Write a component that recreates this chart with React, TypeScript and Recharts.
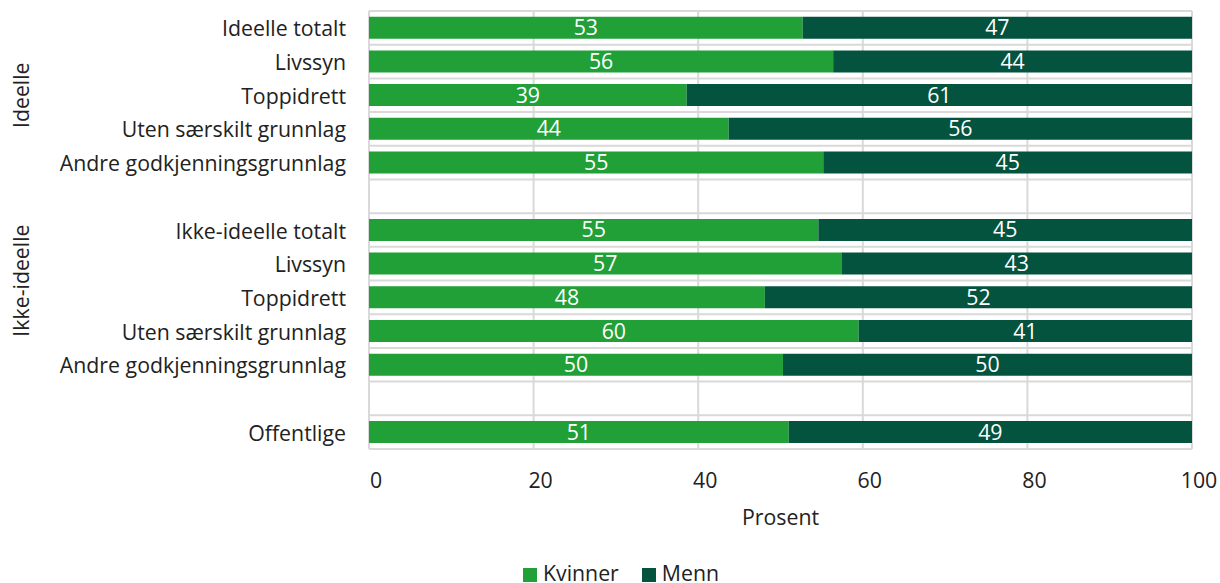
import { BarChart, Bar, XAxis, YAxis, CartesianGrid, Legend, LabelList } from "recharts";

const categories = [
  "Ideelle totalt",
  "Livssyn",
  "Toppidrett",
  "Uten særskilt grunnlag",
  "Andre godkjenningsgrunnlag",
  "",
  "Ikke-ideelle totalt",
  "Livssyn",
  "Toppidrett",
  "Uten særskilt grunnlag",
  "Andre godkjenningsgrunnlag",
  "",
  "Offentlige",
];
const kvinner = [52.7, 56.4, 38.6, 43.7, 55.2, null, 54.6, 57.4, 48.1, 59.5, 50.3, null, 51.0];
const menn = [47.3, 43.6, 61.4, 56.3, 44.8, null, 45.4, 42.6, 51.9, 40.5, 49.7, null, 49.0];

// group labels on the far left, with the first and last row they cover
const groupLabels = ["Ideelle", "Ikke-ideelle"];
const groupRows = [
  [0, 4],
  [5, 10],
];
const xTicks = [0, 20, 40, 60, 80, 100];

const GREEN = "#21A037";
const DARK = "#03533F";
const TEXT = "#222";
const FONT = 21.3;
const GROUP_X = 21;

const data = categories.map((name, i) => ({ name, kvinner: kvinner[i], menn: menn[i] }));

const fmt = (v: any) => (v == null ? "" : Math.round(v));

// category label, plus the rotated group label at the middle of its rows
const CatTick = ({ x, y, payload, index, height }: any) => {
  const step = height / categories.length;
  const g = groupRows.findIndex(([a, b]) => Math.floor((a + b) / 2) === index);
  let group = null;
  if (g >= 0) {
    const [a, b] = groupRows[g];
    const gy = y + ((a + b) / 2 - index) * step;
    group = (
      <text
        x={GROUP_X}
        y={gy}
        textAnchor="middle"
        dominantBaseline="central"
        fill={TEXT}
        fontSize={FONT}
        transform={`rotate(-90 ${GROUP_X} ${gy})`}
      >
        {groupLabels[g]}
      </text>
    );
  }
  return (
    <g>
      <text x={x} y={y} textAnchor="end" dominantBaseline="central" fill={TEXT} fontSize={FONT}>
        {payload.value}
      </text>
      {group}
    </g>
  );
};

const XTick = ({ x, y, payload }: any) => (
  <text x={x + 7} y={y} dy="0.71em" textAnchor="middle" fill={TEXT} fontSize={FONT}>
    {payload.value}
  </text>
);

const LegendContent = ({ payload }: any) => (
  <div
    style={{
      display: "flex",
      justifyContent: "center",
      paddingLeft: 22,
      fontSize: FONT,
      color: TEXT,
      lineHeight: "28px",
    }}
  >
    {(payload || []).map((p: any, i: number) => (
      <span
        key={i}
        style={{ display: "inline-flex", alignItems: "center", marginRight: i < payload.length - 1 ? 23 : 0 }}
      >
        <span
          style={{
            display: "inline-block",
            width: 14,
            height: 14,
            background: p.color,
            marginRight: 6,
            position: "relative",
            top: 2,
          }}
        />
        {p.value}
      </span>
    ))}
  </div>
);

export default function App() {
  return (
    <div style={{ position: "absolute", left: 0, top: 0, fontFamily: "'Open Sans', sans-serif" }}>
      <BarChart
        width={1220}
        height={583}
        data={data}
        layout="vertical"
        margin={{ top: 11, right: 28, left: 0, bottom: 26 }}
        barCategoryGap="17%"
      >
        <CartesianGrid
          stroke="#d9d9d9"
          strokeWidth={2}
          horizontalCoordinatesGenerator={({ offset }: any) =>
            Array.from({ length: data.length + 1 }, (_, i) => offset.top + (i * offset.height) / data.length)
          }
        />
        <XAxis
          type="number"
          domain={[0, 100]}
          ticks={xTicks}
          axisLine={false}
          tickLine={false}
          tickSize={0}
          tickMargin={24}
          tick={<XTick />}
          height={80}
          label={{ value: "Prosent", position: "insideBottom", offset: 4, fill: TEXT, fontSize: FONT }}
        />
        <YAxis
          type="category"
          dataKey="name"
          interval={0}
          axisLine={false}
          tickLine={false}
          tickSize={0}
          tickMargin={23}
          tick={<CatTick />}
          width={369}
        />
        <Legend
          verticalAlign="bottom"
          content={<LegendContent />}
          wrapperStyle={{ left: 0, width: 1220, bottom: -4 }}
        />
        <Bar dataKey="kvinner" name="Kvinner" stackId="a" fill={GREEN} isAnimationActive={false}>
          <LabelList dataKey="kvinner" position="center" fill="#fff" fontSize={FONT} formatter={fmt} />
        </Bar>
        <Bar dataKey="menn" name="Menn" stackId="a" fill={DARK} isAnimationActive={false}>
          <LabelList dataKey="menn" position="center" fill="#fff" fontSize={FONT} formatter={fmt} />
        </Bar>
      </BarChart>
    </div>
  );
}
